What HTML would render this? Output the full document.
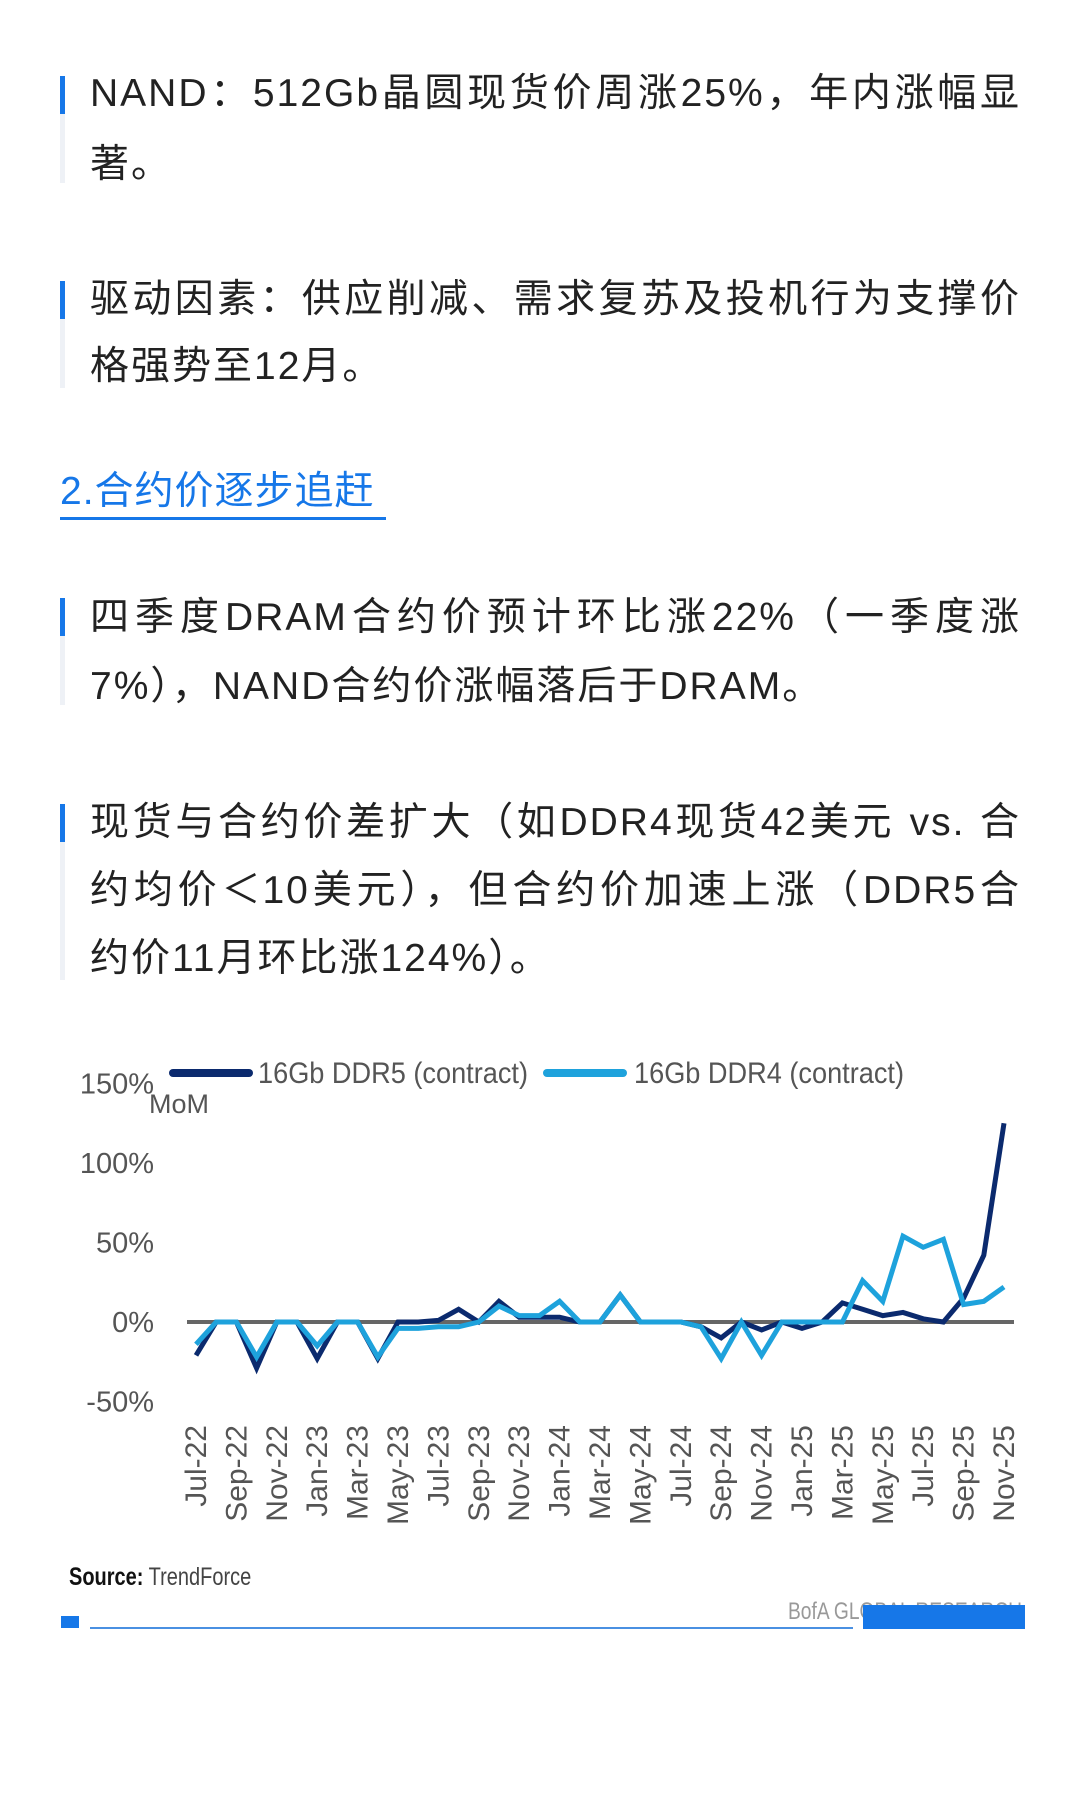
<!DOCTYPE html>
<html><head><meta charset="utf-8">
<style>
body{margin:0;width:1080px;height:1800px;background:#fff;position:relative;overflow:hidden;font-family:"Liberation Sans","Noto Sans CJK SC",sans-serif;}
.ln{position:absolute;left:90px;width:931px;font-size:39px;line-height:50px;color:#222;letter-spacing:2px;white-space:nowrap;}
.j{text-align:justify;text-align-last:justify;}
.bar{position:absolute;left:60px;width:5px;}
.b{background:#1677e8;}.g{background:#eef1f6;}
</style></head><body>
<div class="bar g" style="top:76px;height:107px"></div>
<div class="bar b" style="top:76px;height:38px"></div>
<div class="ln j" style="top:69px">NAND：512Gb晶圆现货价周涨25%，年内涨幅显</div>
<div class="ln" style="top:140px">著。</div>

<div class="bar g" style="top:281px;height:107px"></div>
<div class="bar b" style="top:281px;height:38px"></div>
<div class="ln j" style="top:275px">驱动因素：供应削减、需求复苏及投机行为支撑价</div>
<div class="ln" style="top:342px">格强势至12月。</div>

<div style="position:absolute;left:60px;top:467px;font-size:39px;line-height:50px;color:#1677e8;letter-spacing:1px;white-space:nowrap">2.合约价逐步追赶</div>
<div style="position:absolute;left:60px;top:517px;width:326px;height:3px;background:#1677e8"></div>

<div class="bar g" style="top:598px;height:107px"></div>
<div class="bar b" style="top:598px;height:38px"></div>
<div class="ln j" style="top:593px">四季度DRAM合约价预计环比涨22%（一季度涨</div>
<div class="ln" style="top:662px">7%），NAND合约价涨幅落后于DRAM。</div>

<div class="bar g" style="top:804px;height:176px"></div>
<div class="bar b" style="top:804px;height:38px"></div>
<div class="ln j" style="top:798px">现货与合约价差扩大（如DDR4现货42美元 vs. 合</div>
<div class="ln j" style="top:866px">约均价＜10美元），但合约价加速上涨（DDR5合</div>
<div class="ln" style="top:934px">约价11月环比涨124%）。</div>

<svg id="chart" width="1080" height="1800" style="position:absolute;left:0;top:0" font-family="'Liberation Sans Narrow','Liberation Sans',sans-serif"></svg>

<div style="position:absolute;left:69px;top:1563px;font-family:'Liberation Sans Narrow','Liberation Sans',sans-serif;font-size:25px;color:#444;white-space:nowrap;transform:scaleX(0.8);transform-origin:0 0"><b style="color:#111">Source:</b> TrendForce</div>
<div style="position:absolute;left:788px;top:1598px;font-family:'Liberation Sans Narrow','Liberation Sans',sans-serif;font-size:24px;color:#999;white-space:nowrap;transform:scaleX(0.8);transform-origin:0 0">BofA GLOBAL RESEARCH</div>
<div style="position:absolute;left:61px;top:1616px;width:18px;height:12px;background:#1677e8"></div>
<div style="position:absolute;left:90px;top:1627px;width:763px;height:2px;background:#4a90e2"></div>
<div style="position:absolute;left:863px;top:1605px;width:162px;height:24px;background:#1677e8"></div>

<script>
const categories=["Jul-22","Aug-22","Sep-22","Oct-22","Nov-22","Dec-22","Jan-23","Feb-23","Mar-23","Apr-23","May-23","Jun-23","Jul-23","Aug-23","Sep-23","Oct-23","Nov-23","Dec-23","Jan-24","Feb-24","Mar-24","Apr-24","May-24","Jun-24","Jul-24","Aug-24","Sep-24","Oct-24","Nov-24","Dec-24","Jan-25","Feb-25","Mar-25","Apr-25","May-25","Jun-25","Jul-25","Aug-25","Sep-25","Oct-25","Nov-25"];
const ddr5=[-21,0,0,-29,0,0,-23,0,0,-23,0,0,1,8,0,13,3,3,3,0,0,17,0,0,0,-3,-10,0,-5,0,-4,0,12,8,4,6,2,0,15,42,125];
const ddr4=[-14,0,0,-22,0,0,-15,0,0,-22,-4,-4,-3,-3,0,10,4,4,13,0,0,17,0,0,0,-3,-23,0,-21,0,0,0,0,26,13,54,47,52,11,13,22];
const yTicks=[-50,0,50,100,150];
const yTickLabels=["-50%","0%","50%","100%","150%"];
const seriesNames=["16Gb DDR5 (contract)","16Gb DDR4 (contract)"];
const svg=document.getElementById('chart');const NS='http://www.w3.org/2000/svg';
const x0=196,dx=20.2,y0=1322,py=79.5/50;
const X=i=>x0+i*dx, Y=v=>y0-v*py;
function mk(t,a){const e=document.createElementNS(NS,t);for(const k in a)e.setAttribute(k,a[k]);svg.appendChild(e);return e;}
yTicks.forEach((v,i)=>{const t=mk('text',{x:154,y:Y(v)+10,'text-anchor':'end','font-size':29,fill:'#555'});t.textContent=yTickLabels[i];

});
const mom=mk('text',{x:149,y:1113,'font-size':27,fill:'#555'});mom.textContent='MoM';


const zl=mk('line',{x1:187,x2:1014,y1:Y(0),y2:Y(0),stroke:'#666','stroke-width':4});


categories.forEach((c,i)=>{if(i%2)return;const t=mk('text',{transform:`translate(${X(i)+10},1425) rotate(-90)`,'text-anchor':'end','font-size':30,fill:'#555'});t.textContent=c;

});
function line(d,col,name){const p=mk('polyline',{points:d.map((v,i)=>X(i)+','+Y(v)).join(' '),fill:'none',stroke:col,'stroke-width':5,'stroke-linejoin':'miter'});

}
line(ddr5,'#0b2a6e','ddr5-line');
line(ddr4,'#1ea2dc','ddr4-line');
[[173,258,'#0b2a6e'],[547,634,'#1ea2dc']].forEach((l,i)=>{const s=mk('line',{x1:l[0],x2:l[0]+76,y1:1073,y2:1073,stroke:l[2],'stroke-width':8,'stroke-linecap':'round'});


const t=mk('text',{x:l[1],y:1083,'font-size':30,fill:'#555',textLength:270,lengthAdjust:'spacingAndGlyphs'});t.textContent=seriesNames[i];

});
</script>
</body></html>
